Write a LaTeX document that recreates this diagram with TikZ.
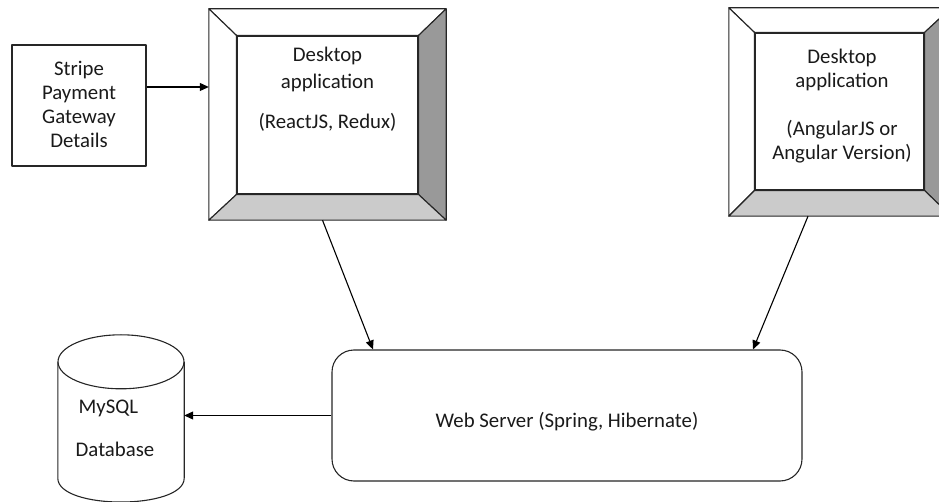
\documentclass[tikz,border=0pt]{standalone}
\usepackage{fontspec}
\setmainfont{Carlito}
\usepackage{xcolor}
\usetikzlibrary{calc,arrows.meta}
\definecolor{edge}{HTML}{262626}
\definecolor{txtc}{HTML}{1A1A1A}
\definecolor{shadedark}{HTML}{999999}
\definecolor{shadelight}{HTML}{CBCBCB}
\tikzset{
  base/.style={draw=edge, line width=1.1pt, line join=round},
  box/.style={base, rectangle, fill=white, inner sep=0pt},
  frame/.style={rectangle, inner sep=0pt},
  face/.style={base},
  conn/.style={draw=black, line width=1.1pt, -{Triangle[length=9pt,width=8pt]}},
  lab/.style={text=txtc, font=\fontsize{20.8}{24}\selectfont, align=center, inner sep=0pt},
}

\begin{document}
\begin{tikzpicture}[x=1pt,y=-1pt]
  \useasboundingbox (0,0) rectangle (939,502);
  \clip (0,0) rectangle (939,502);

  \node[frame,minimum width=237pt,minimum height=211pt] (reactframe) at (327.5,114.5) {};
  \node[frame,minimum width=222pt,minimum height=208pt] (angularframe) at (840,112) {};
  \foreach \f/\i in {reactframe/react, angularframe/angular} {
    \fill[white] (\f.north west) rectangle (\f.south east);
  }
  \node[box,minimum width=181pt,minimum height=158pt] (react) at (327.5,115) {};
  \node[box,minimum width=169pt,minimum height=157pt] (angular) at (839.5,111.5) {};
  \foreach \f/\i in {reactframe/react, angularframe/angular} {
    \draw[face,fill=white] (\f.north west) -- (\f.north east) -- (\i.north east) -- (\i.north west) -- cycle;
    \draw[face,fill=white] (\f.north west) -- (\i.north west) -- (\i.south west) -- (\f.south west) -- cycle;
    \draw[face,fill=shadedark] (\f.north east) -- (\f.south east) -- (\i.south east) -- (\i.north east) -- cycle;
    \draw[face,fill=shadelight] (\f.south west) -- (\i.south west) -- (\i.south east) -- (\f.south east) -- cycle;
    \draw[base] (\i.north west) rectangle (\i.south east);
  }
  \node[lab] (reacttxt) at (327.5,89.5) {Desktop\\[3pt]application\\[16pt](ReactJS, Redux)};
  \node[lab] (angulartxt) at (842,106) {Desktop\\application\\[24pt](AngularJS or\\Angular Version)};

  \node[box,minimum width=134pt,minimum height=121pt] (stripe) at (79,105.5) {};
  \node[lab] (stripetxt) at (79,104.5) {Stripe\\Payment\\Gateway\\Details};

  \node[box,rounded corners=22pt,minimum width=470pt,minimum height=131pt] (server) at (567,415.5) {};
  \node[lab] (servertxt) at (567,422) {Web Server (Spring, Hibernate)};

  \node[frame,minimum width=126pt,minimum height=116pt] (db) at (121,420) {};
  \draw[base] (db.north west) -- (db.south west) .. controls (58,510) and (184,510) .. (db.south east) -- (db.north east);
  \draw[base] (db.north) ellipse [x radius=63, y radius=27];
  \node[lab,align=left] (dbtxt) at (115,428) {\hspace*{3pt}MySQL\\[19pt]Database};

  \draw[conn] ([yshift=18.5pt]stripe.east) -- ([yshift=18.5pt]stripe.east -| reactframe.west);
  \draw[conn] ([xshift=-5pt]reactframe.south) -- ([xshift=-194pt]server.north);
  \draw[conn] ([xshift=-32pt]angularframe.south) -- ([xshift=186pt]server.north);
  \draw[conn] (server.west) -- (server.west -| db.east);
\end{tikzpicture}
\end{document}
